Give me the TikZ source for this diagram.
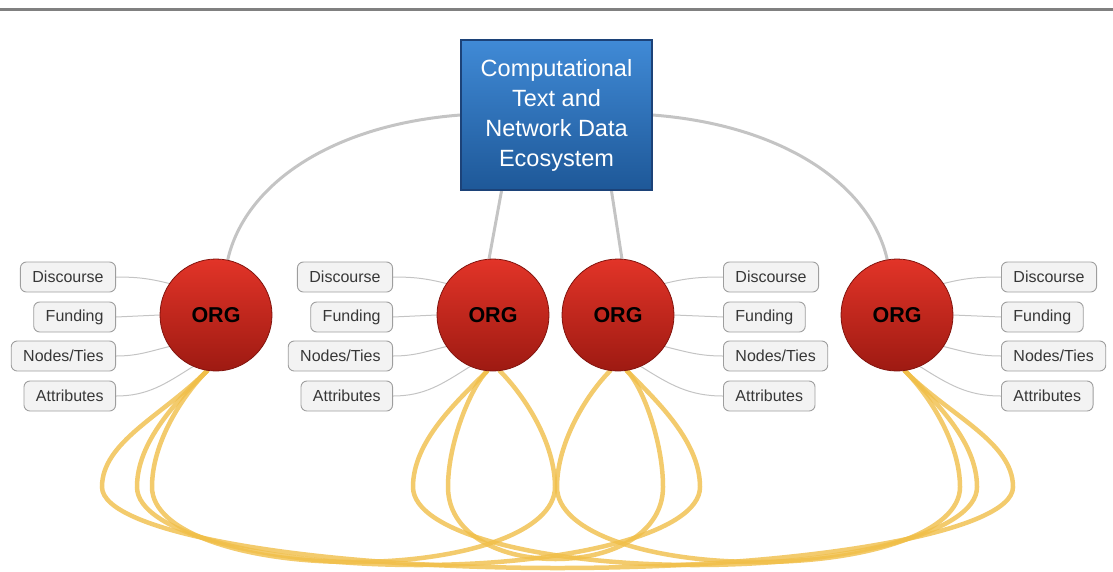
\documentclass[tikz,border=0pt]{standalone}
\usepackage{fontspec}
\setmainfont{Liberation Sans}
\usetikzlibrary{backgrounds}

\definecolor{orgtop}{RGB}{226,52,40}
\definecolor{orgbot}{RGB}{158,26,18}
\definecolor{orgline}{RGB}{130,20,14}
\definecolor{ecotop}{RGB}{64,138,214}
\definecolor{ecobot}{RGB}{30,88,152}
\definecolor{ecoline}{RGB}{28,66,120}
\definecolor{tiecol}{RGB}{240,190,72}
\definecolor{linkgray}{RGB}{196,196,196}
\definecolor{tagfill}{RGB}{243,243,243}
\definecolor{tagline}{RGB}{158,158,158}
\definecolor{tagtext}{RGB}{55,55,55}

\tikzset{
  org/.style={circle, minimum size=112pt, inner sep=0pt, draw=orgline, line width=0.8pt,
    top color=orgtop, bottom color=orgbot, font=\fontsize{21.5}{24}\selectfont\bfseries},
  eco/.style={rectangle, minimum width=191pt, minimum height=150pt, draw=ecoline, line width=1.2pt,
    top color=ecotop, bottom color=ecobot, text=white, align=center, font=\fontsize{23.5}{30}\selectfont},
  tag/.style={rectangle, rounded corners=6pt, minimum height=30pt, inner xsep=12pt, draw=tagline,
    line width=0.9pt, fill=tagfill, text=tagtext, font=\fontsize{16}{19}\selectfont},
  link/.style={linkgray, line width=3pt},
  twig/.style={linkgray, line width=1pt},
  tie/.style={tiecol, line width=4.5pt, opacity=0.8, line cap=round},
}

\begin{document}
\begin{tikzpicture}[x=1pt,y=1pt]
  \useasboundingbox (0,0) rectangle (1113,-571);
  % Linea superior
  \draw[black!50, line width=2.5pt] (0,-9.5) -- (1113,-9.5);

  % Ecosistema central
  \node[eco] (eco) at (556.5,-115) {Computational\\Text and\\Network Data\\Ecosystem};

  % Organizaciones
  \foreach \i/\x in {1/216, 2/493, 3/618, 4/897}
    \node[org] (c\i) at (\x,-315) {ORG};

  % Etiquetas
  \foreach \g/\x/\side in {1/116/east, 2/393/east, 3/723/west, 4/1001/west}
    \foreach \n/\t/\y in {d/Discourse/-277, f/Funding/-317, n/{Nodes/Ties}/-356, a/Attributes/-396}
      \node[tag, anchor=\side] (\n\g) at (\x,\y) {\t};

  \begin{scope}[on background layer]
    % Lazos entre organizaciones
    \foreach \a/\aa/\b/\ba/\xl/\xr/\yb/\d in {
        1/-99/2/-83/152/555/562/24,
        1/-99/3/-81/137/700/565/31,
        1/-99/4/-82/102/1013/568/45,
        2/-96/3/-81/448/663/559/16,
        2/-96/4/-82/413/977/565/32,
        3/-98/4/-82/557/960/562/23}
      \draw[tie] (c\a.\aa) .. controls +(-\d,-\d) and +(0,45) .. (\xl,-487)
        .. controls +(0,-45) and +({-0.275*(\xr-\xl)},0) .. ({(\xl+\xr)/2},-\yb)
        .. controls +({0.275*(\xr-\xl)},0) and +(0,-45) .. (\xr,-487)
        .. controls +(0,45) and +(\d,-\d) .. (c\b.\ba);

    % Ecosistema a organizaciones
    \draw[link] (eco.west) .. controls +(-130,-10) and +(17,75) .. (c1.78);
    \draw[link] (eco.-126) -- (c2.94);
    \draw[link] (eco.-54) -- (c3.86);
    \draw[link] (eco.east) .. controls +(130,-10) and +(-17,75) .. (c4.100);

    % Etiquetas a organizaciones
    \foreach \g in {1,2} {
      \draw[twig] (d\g.east) to[out=0,in=166] (c\g.146);
      \draw[twig] (f\g.east) -- (c\g.180);
      \draw[twig] (n\g.east) to[out=0,in=194] (c\g.214);
      \draw[twig] (a\g.east) to[out=0,in=212] (c\g.246);
    }
    \foreach \g in {3,4} {
      \draw[twig] (c\g.34) to[out=14,in=180] (d\g.west);
      \draw[twig] (c\g.0) -- (f\g.west);
      \draw[twig] (c\g.-34) to[out=-14,in=180] (n\g.west);
      \draw[twig] (c\g.-66) to[out=-32,in=180] (a\g.west);
    }
  \end{scope}
\end{tikzpicture}
\end{document}
